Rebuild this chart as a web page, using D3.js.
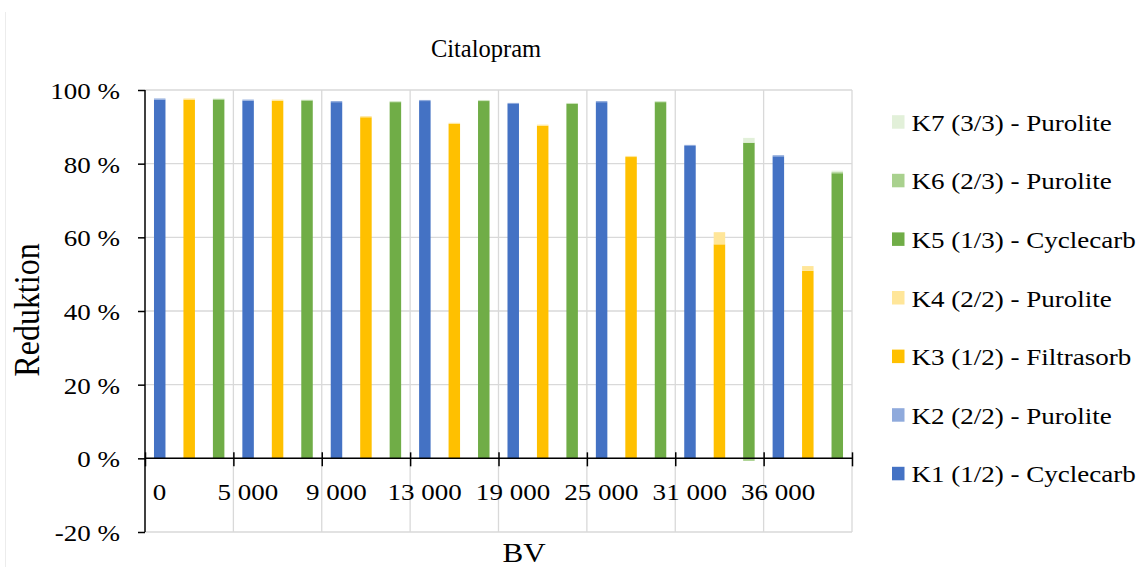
<!DOCTYPE html>
<html>
<head>
<meta charset="utf-8">
<script src="https://cdn.jsdelivr.net/npm/d3@7"></script>
<style>
  html, body { margin: 0; padding: 0; background: #fff; }
  svg { display: block; font-family: "Liberation Serif", "Times New Roman", serif; }
</style>
</head>
<body>
<svg id="chart" width="1145" height="567"></svg>
<script>
// Bed volumes (BV) and reduction (%) per column
const categories = ["0", "5 000", "9 000", "13 000", "19 000", "25 000", "31 000", "36 000"];
const K1 = [97.4, 97.1, 96.7, 97.0, 96.2, 96.7, 84.8, 82.0];
const K2 = [0.3, 0.3, 0.3, 0.3, 0.3, 0.3, 0.3, 0.3];
const K3 = [97.4, 97.1, 92.6, 90.8, 90.3, 81.8, 58.1, 50.9];
const K4 = [0.3, 0.3, 0.3, 0.3, 0.3, 0.3, 3.3, 1.3];
const K5 = [97.4, 97.1, 96.7, 97.0, 96.2, 96.7, 85.7, 77.4];
const K6 = [0.2, 0.2, 0.2, 0.2, 0.2, 0.2, -0.7, 0.3];
const K7 = [0.1, 0.1, 0.1, 0.1, 0.1, 0.1, 1.3, 0.4];
const yTicks = [-20, 0, 20, 40, 60, 80, 100];

const series = [
  { key: "K1", label: "K1 (1/2) - Cyclecarb", values: K1, color: "#4472c4", stack: 0 },
  { key: "K2", label: "K2 (2/2) - Purolite", values: K2, color: "#8faadc", stack: 0 },
  { key: "K3", label: "K3 (1/2) - Filtrasorb", values: K3, color: "#ffc000", stack: 1 },
  { key: "K4", label: "K4 (2/2) - Purolite", values: K4, color: "#ffe699", stack: 1 },
  { key: "K5", label: "K5 (1/3) - Cyclecarb", values: K5, color: "#70ad47", stack: 2 },
  { key: "K6", label: "K6 (2/3) - Purolite", values: K6, color: "#a9d18e", stack: 2 },
  { key: "K7", label: "K7 (3/3) - Purolite", values: K7, color: "#e2f0d9", stack: 2 }
];

const SX = 1.15; // horizontal text stretch
const svg = d3.select("#chart");
const plot = { left: 145, right: 852, top: 90, bottom: 532 };

const x = d3.scaleBand().domain(categories).range([plot.left, plot.right]).padding(0);
const xb = d3.scaleLinear().domain([0, categories.length]).range([plot.left, plot.right]);
const stackIds = [0, 1, 2];
const xs = d3.scaleBand().domain(stackIds).range([0, x.bandwidth()]).paddingInner(0.61).paddingOuter(0.305);
const y = d3.scaleLinear().domain([-20, 100]).range([plot.bottom, plot.top]);

// faint chart border at left
svg.append("line").attr("x1", 5.5).attr("x2", 5.5).attr("y1", 12).attr("y2", 567)
  .attr("stroke", "#ececec").attr("stroke-width", 1);

// gridlines
const grid = svg.append("g").attr("stroke", "#d9d9d9").attr("stroke-width", 1.3);
grid.selectAll("line.h").data(yTicks).join("line").attr("class", "h")
  .attr("x1", plot.left).attr("x2", plot.right)
  .attr("y1", d => y(d)).attr("y2", d => y(d));
grid.selectAll("line.v").data(d3.range(1, categories.length + 1)).join("line").attr("class", "v")
  .attr("x1", d => xb(d)).attr("x2", d => xb(d))
  .attr("y1", plot.top).attr("y2", plot.bottom);

// stacked bars, one stack per column group
const rows = categories.map((c, i) => {
  const r = { cat: c };
  series.forEach(s => r[s.key] = s.values[i]);
  return r;
});
const bars = svg.append("g");
stackIds.forEach(sid => {
  const group = series.filter(s => s.stack === sid);
  const stacked = d3.stack().keys(group.map(s => s.key)).offset(d3.stackOffsetDiverging)(rows);
  stacked.forEach((layer, li) => {
    bars.append("g").attr("fill", group[li].color)
      .selectAll("rect").data(layer).join("rect")
      .attr("x", d => x(d.data.cat) + xs(sid))
      .attr("width", xs.bandwidth())
      .attr("y", d => y(Math.max(d[0], d[1])))
      .attr("height", d => Math.abs(y(d[0]) - y(d[1])));
  });
});

// y axis
const yAxis = svg.append("g").attr("transform", `translate(${plot.left},0)`)
  .call(d3.axisLeft(y).tickValues(yTicks).tickSize(7).tickPadding(18).tickFormat(d => `${d} %`));
yAxis.select(".domain").attr("stroke", "#000").attr("stroke-width", 1.5)
  .attr("d", `M0,${plot.top}V${plot.bottom}`);
yAxis.selectAll(".tick line").attr("stroke", "#000").attr("stroke-width", 1.5);
yAxis.selectAll(".tick text")
  .attr("font-size", 23.5).attr("font-family", "Liberation Serif").attr("fill", "#000")
  .attr("x", -25 / SX).attr("dy", "0.36em")
  .attr("transform", `scale(${SX},1)`);

// x axis at 0 %, ticks at group boundaries crossing the line
const xAxis = svg.append("g").attr("transform", `translate(0,${y(0)})`)
  .call(d3.axisBottom(xb).tickValues(d3.range(0, categories.length + 1)).tickSize(8).tickPadding(17)
    .tickFormat(i => categories[i] || ""));
xAxis.select(".domain").attr("stroke", "#000").attr("stroke-width", 1.5)
  .attr("d", `M${plot.left},0H${plot.right}`);
xAxis.selectAll(".tick line").attr("stroke", "#000").attr("stroke-width", 1.5).attr("y1", -6);
xAxis.selectAll(".tick text")
  .attr("font-size", 23.5).attr("font-family", "Liberation Serif").attr("fill", "#000")
  .attr("x", 14 / SX).attr("dy", "0.71em")
  .attr("transform", `scale(${SX},1)`);

// text helper with optional horizontal stretch
function label(txt, px, py, size, anchor, sx, rot) {
  return svg.append("text")
    .attr("transform", `translate(${px},${py}) scale(${sx},1)` + (rot ? ` rotate(${rot})` : ""))
    .attr("text-anchor", anchor).attr("font-size", size).attr("fill", "#000").text(txt);
}

label("Citalopram", 486, 57, 24.5, "middle", 1);
label("Reduktion", 39, 310, 32, "middle", SX, -90);
label("BV", 524, 562, 27, "middle", SX);

// legend, K7 on top
const legendItems = series.slice().reverse();
const lg = svg.append("g");
legendItems.forEach((s, i) => {
  const by = 130.7 + i * 58.6;
  lg.append("rect").attr("x", 892).attr("y", by - 15.5).attr("width", 12.5).attr("height", 13.5).attr("fill", s.color);
  lg.append("text").attr("transform", `translate(911.5,${by}) scale(${SX},1)`)
    .attr("font-size", 23.5).attr("fill", "#000").text(s.label);
});
</script>
</body>
</html>
